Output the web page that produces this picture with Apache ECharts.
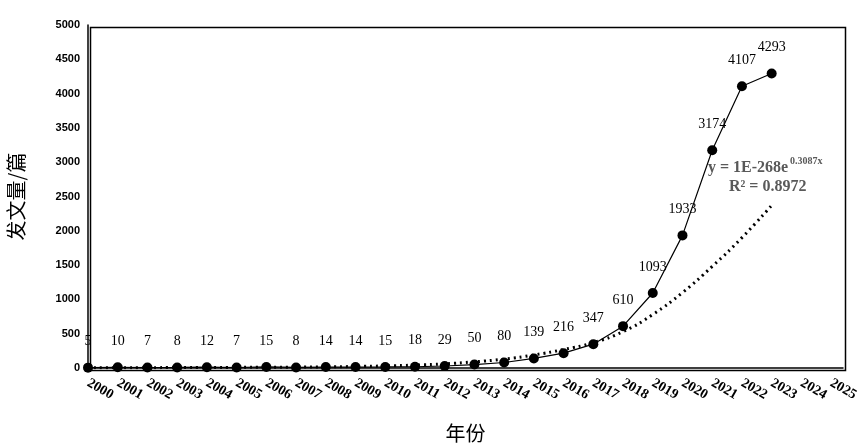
<!DOCTYPE html><html><head><meta charset="utf-8"><script src="https://cdn.jsdelivr.net/npm/echarts@6/dist/echarts.min.js"></script></head><body style="margin:0;background:#fff"><div id="c" style="width:861px;height:445px"></div><script>
const years=[2000,2001,2002,2003,2004,2005,2006,2007,2008,2009,2010,2011,2012,2013,2014,2015,2016,2017,2018,2019,2020,2021,2022,2023];
const counts=[5,10,7,8,12,7,15,8,14,14,15,18,29,50,80,139,216,347,610,1093,1933,3174,4107,4293];
const trend=[3,4,5,6,7,9,11,13,17,22,30,42,60,90,130,190,270,370,530,780,1100,1480,1900,2370];
const yTicks=[0,500,1000,1500,2000,2500,3000,3500,4000,4500,5000];
const ch=echarts.init(document.getElementById('c'));
ch.setOption({animation:false,
grid:{left:88,right:18,top:25,bottom:77,outerBoundsMode:'none'},
xAxis:{type:'value',min:2000,max:2025.4,interval:1,name:'年份',nameLocation:'middle',nameGap:55,
 nameTextStyle:{fontFamily:'Noto Sans CJK SC',fontSize:20,color:'#000'},
 axisLine:{lineStyle:{color:'#000',width:1.5}},axisTick:{show:false},splitLine:{show:false},
 axisLabel:{rotate:-30,margin:14,color:'#000',fontFamily:'Liberation Serif',fontWeight:'bold',fontSize:14,formatter:v=>Number.isInteger(v)?String(v):''}},
yAxis:{type:'value',min:0,max:5000,interval:500,name:'发文量/篇',nameLocation:'middle',nameGap:62,nameRotate:90,
 nameTextStyle:{fontFamily:'Noto Sans CJK SC',fontSize:20,color:'#000'},
 axisLine:{show:true,lineStyle:{color:'#000',width:1.5}},axisTick:{show:false},splitLine:{show:false},
 axisLabel:{color:'#000',fontWeight:'bold',fontSize:11,fontFamily:'Liberation Sans',formatter:v=>yTicks.includes(v)?String(v):''}},
graphic:[{type:'rect',left:88,top:25,shape:{width:755,height:343},style:{fill:'none',stroke:'#000',lineWidth:1.5}},
 {type:'text',left:708,top:160,style:{text:'y = 1E-268e',font:'bold 16px Liberation Serif',fill:'#595959'}},
 {type:'text',left:790,top:156,style:{text:'0.3087x',font:'bold 10px Liberation Serif',fill:'#595959'}},
 {type:'text',left:729,top:179,style:{text:'R² = 0.8972',font:'bold 16px Liberation Serif',fill:'#595959'}}],
series:[
{type:'line',data:years.map((y,i)=>[y,trend[i]]),symbol:'none',smooth:true,lineStyle:{color:'#000',width:3,type:[2,4]},z:1},
{type:'line',data:years.map((y,i)=>[y,counts[i]]),symbol:'circle',symbolSize:10,itemStyle:{color:'#000'},lineStyle:{color:'#000',width:1.2},
 label:{show:true,position:'top',distance:14,color:'#000',fontFamily:'Liberation Serif',fontSize:14},z:2}
]});
</script></body></html>
